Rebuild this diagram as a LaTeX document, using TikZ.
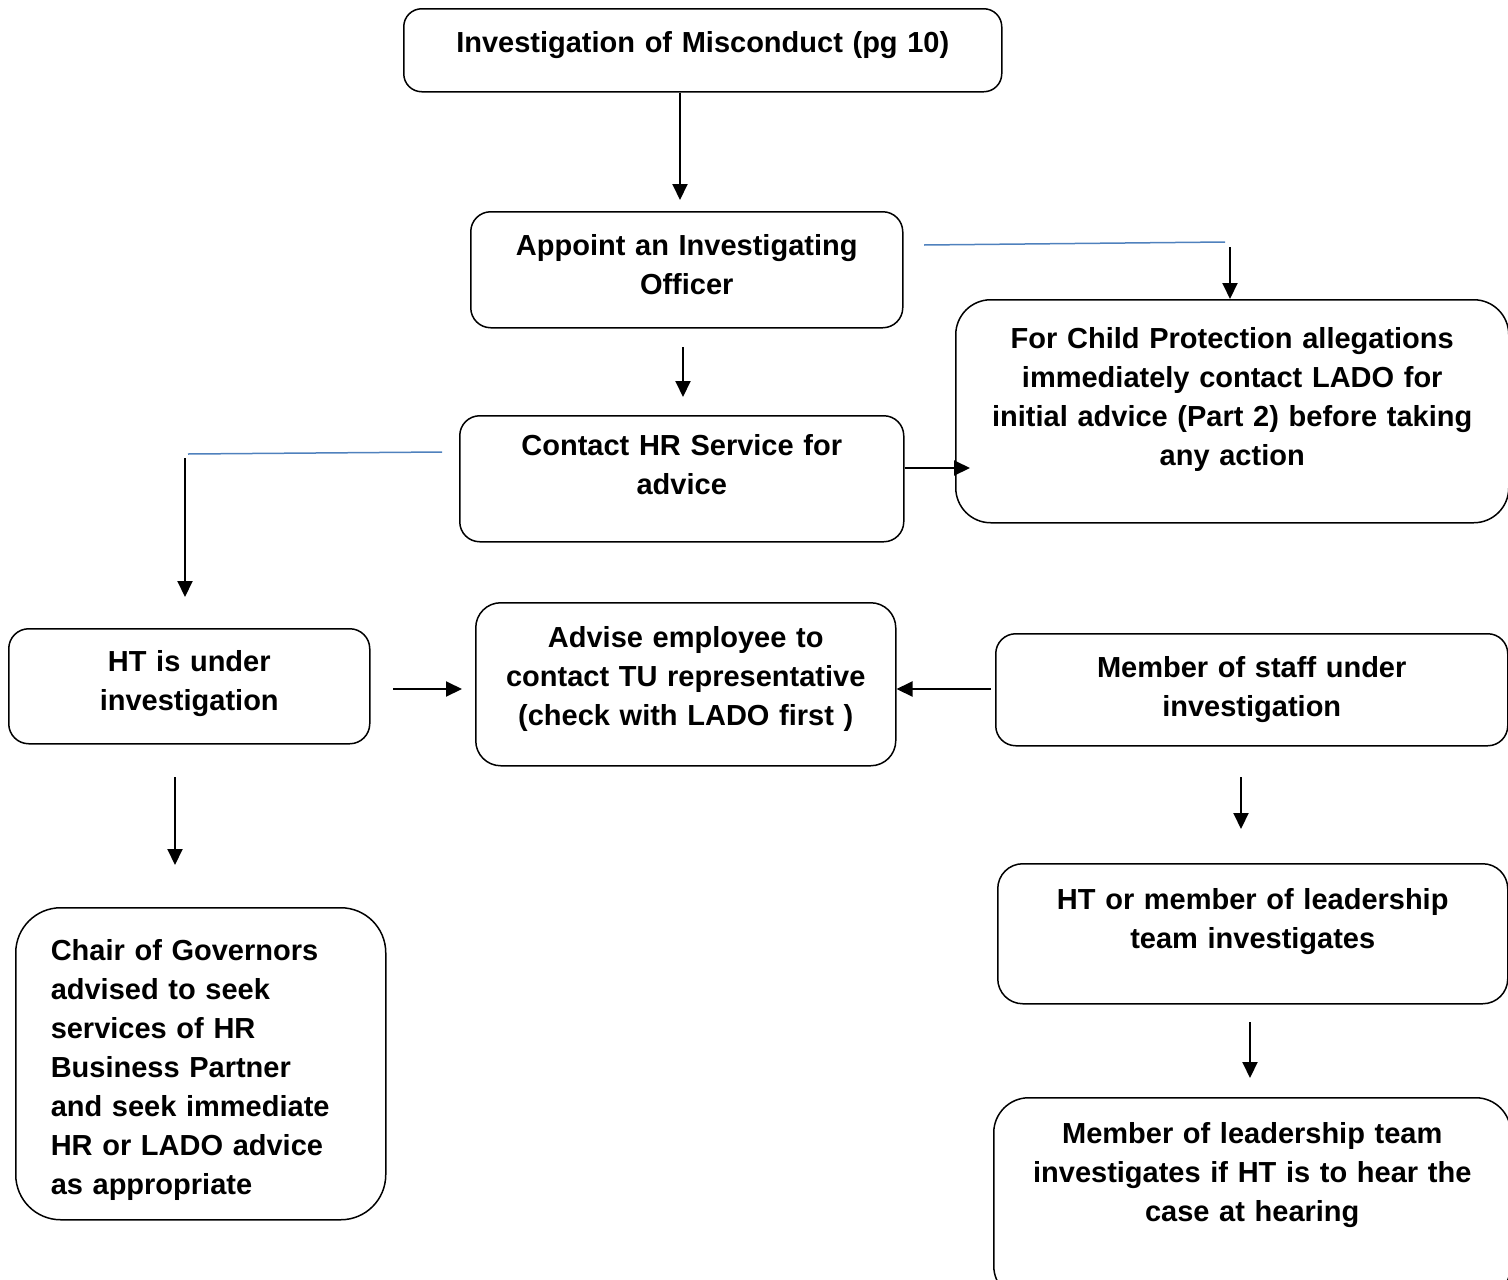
\documentclass[tikz,border=0pt]{standalone}
\usepackage{fontspec}
\setmainfont{Liberation Sans}
\usetikzlibrary{arrows.meta}
\definecolor{linkblue}{RGB}{79,129,189}
\newcommand{\boxfont}{\fontsize{29}{39}\selectfont\bfseries}
\tikzstyle{stage} = [draw, line width=1.5pt, rounded corners=20pt, inner sep=0pt, align=center, anchor=north west, font=\boxfont]
\tikzstyle{connector} = [line width=2pt, -{Triangle[length=16pt,width=15pt]}]
\tikzstyle{link} = [draw=linkblue, line width=1.5pt]

\begin{document}
\begin{tikzpicture}[x=1pt, y=-1pt]
                \useasboundingbox (0,0) rectangle (1508,1280);

                \node (misc) [stage, rounded corners=18pt, text width=598pt, text height=44pt, text depth=39pt] at (403,8) {Investigation of Misconduct (pg 10)};
                \node (appoint) [stage, text width=432pt, text height=44pt, text depth=72pt] at (470,211) {Appoint an Investigating\\Officer};
                \node (child) [stage, rounded corners=35pt, text width=553pt, text height=49pt, text depth=174pt] at (955,299) {For Child Protection allegations\\immediately contact LADO for\\initial advice (Part 2) before taking\\any action};
                \node (contact) [stage, text width=444pt, text height=40pt, text depth=86pt] at (459,415) {Contact HR Service for\\advice};
                \node (headteacher) [stage, text width=361pt, text height=43pt, text depth=72pt] at (8,628) {HT is under\\investigation};
                \node (advise) [stage, rounded corners=25pt, text width=420pt, text height=45pt, text depth=118pt] at (475,602) {Advise employee to\\contact TU representative\\(check with LADO first )};
                \node (staff) [stage, text width=512pt, text height=44pt, text depth=68pt] at (995,633) {Member of staff under\\investigation};
                \node (chair) [stage, rounded corners=45pt, align=left, inner xsep=35pt, text width=300pt, text height=53pt, text depth=259pt] at (15,907) {Chair of Governors\\advised to seek\\services of HR\\Business Partner\\and seek immediate\\HR or LADO advice\\as appropriate};
                \node (leader) [stage, rounded corners=25pt, text width=510pt, text height=46pt, text depth=94pt] at (997,863) {HT or member of leadership\\team investigates};
                \node (hearing) [stage, rounded corners=35pt, text width=517pt, text height=46pt, text depth=157pt] at (993,1097) {Member of leadership team\\investigates if HT is to hear the\\case at hearing};

                % free ends of the connectors
                \coordinate (a1) at (680,200);
                \coordinate (b0) at (683,347);
                \coordinate (b1) at (683,397);
                \coordinate (c0) at (924,245);
                \coordinate (c1) at (1225,242);
                \coordinate (c2) at (1230,247);
                \coordinate (d1) at (970,468);
                \coordinate (e0) at (442,452);
                \coordinate (e1) at (188,454);
                \coordinate (e2) at (185,458);
                \coordinate (e3) at (185,597);
                \coordinate (f0) at (393,689);
                \coordinate (f1) at (462,689);
                \coordinate (g0) at (991,689);
                \coordinate (h0) at (175,777);
                \coordinate (h1) at (175,865);
                \coordinate (i0) at (1241,777);
                \coordinate (i1) at (1241,829);
                \coordinate (j0) at (1250,1022);
                \coordinate (j1) at (1250,1078);

                \draw [connector] (misc.south -| a1) -- (a1);
                \draw [connector] (b0) -- (b1);
                \draw [link] (c0) -- (c1);
                \draw [connector] (c2) -- (c2 |- child.north);
                \draw [connector] (contact.east |- d1) -- (d1);
                \draw [link] (e0) -- (e1);
                \draw [connector] (e2) -- (e3);
                \draw [connector] (f0) -- (f1);
                \draw [connector] (g0) -- (advise.east |- g0);
                \draw [connector] (h0) -- (h1);
                \draw [connector] (i0) -- (i1);
                \draw [connector] (j0) -- (j1);
            \end{tikzpicture}
\end{document}
